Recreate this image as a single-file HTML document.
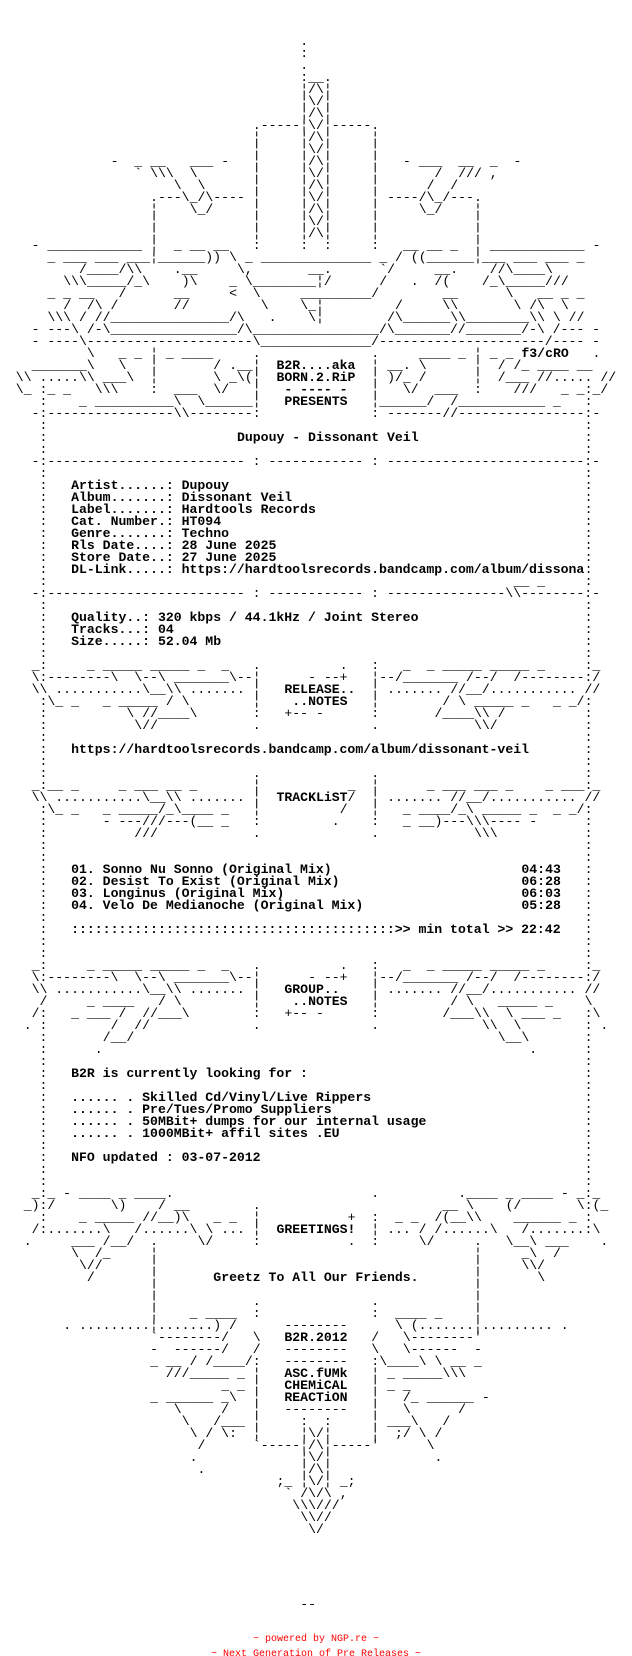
<!DOCTYPE html>
<html><head><meta charset="utf-8">
<style>
html,body{margin:0;padding:0;background:#fff;}
#w{position:relative;width:632px;height:1656px;overflow:hidden;background:#fff;color:#000;font-family:"Liberation Mono","DejaVu Sans Mono",monospace;font-size:13.17px;line-height:12px;}
p{position:absolute;left:0;margin:0;height:12px;width:632px;}
i{position:absolute;top:0;left:calc(var(--c)*7.9px);font-style:normal;white-space:pre;}
.b{font-weight:bold;}
.f{position:absolute;left:0;width:632px;text-align:center;color:#f00;font-family:"Liberation Mono",monospace;font-size:10px;line-height:12px;white-space:pre;}
</style></head><body><div id="w">
<p style="top:36px"><i style="--c:38">.</i></p>
<p style="top:48px"><i style="--c:38">:</i></p>
<p style="top:60px"><i style="--c:38">.</i></p>
<p style="top:72px"><i style="--c:38">:__.</i></p>
<p style="top:84px"><i style="--c:38">¦/\¦</i></p>
<p style="top:96px"><i style="--c:38">¦\/¦</i></p>
<p style="top:108px"><i style="--c:38">¦/\¦</i></p>
<p style="top:120px"><i style="--c:32">.-----¦\/¦-----.</i></p>
<p style="top:132px"><i style="--c:32">¦</i><i style="--c:38">¦/\¦</i><i style="--c:47">¦</i></p>
<p style="top:144px"><i style="--c:32">¦</i><i style="--c:38">¦\/¦</i><i style="--c:47">¦</i></p>
<p style="top:156px"><i style="--c:14">-</i><i style="--c:17">_</i><i style="--c:19">__</i><i style="--c:24">___</i><i style="--c:28">-</i><i style="--c:32">¦</i><i style="--c:38">¦/\¦</i><i style="--c:47">¦</i><i style="--c:51">-</i><i style="--c:53">___</i><i style="--c:58">__</i><i style="--c:62">_</i><i style="--c:65">-</i></p>
<p style="top:168px"><i style="--c:17">`</i><i style="--c:19">\\\</i><i style="--c:24">\</i><i style="--c:32">¦</i><i style="--c:38">¦\/¦</i><i style="--c:47">¦</i><i style="--c:55">/</i><i style="--c:58">///</i><i style="--c:62">,</i></p>
<p style="top:180px"><i style="--c:22">\</i><i style="--c:25">\</i><i style="--c:32">¦</i><i style="--c:38">¦/\¦</i><i style="--c:47">¦</i><i style="--c:54">/</i><i style="--c:57">/</i></p>
<p style="top:192px"><i style="--c:19">.---\_/\----</i><i style="--c:32">¦</i><i style="--c:38">¦\/¦</i><i style="--c:47">¦</i><i style="--c:49">----/\_/---.</i></p>
<p style="top:204px"><i style="--c:19">¦</i><i style="--c:24">\_/</i><i style="--c:32">¦</i><i style="--c:38">¦/\¦</i><i style="--c:47">¦</i><i style="--c:53">\_/</i><i style="--c:60">¦</i></p>
<p style="top:216px"><i style="--c:19">¦</i><i style="--c:32">¦</i><i style="--c:38">¦\/¦</i><i style="--c:47">¦</i><i style="--c:60">¦</i></p>
<p style="top:228px"><i style="--c:19">¦</i><i style="--c:32">¦</i><i style="--c:38">¦/\¦</i><i style="--c:47">¦</i><i style="--c:60">¦</i></p>
<p style="top:240px"><i style="--c:4">-</i><i style="--c:6">____________</i><i style="--c:19">¦</i><i style="--c:22">_ __ __</i><i style="--c:32">:</i><i style="--c:38">:</i><i style="--c:41">:</i><i style="--c:47">:</i><i style="--c:51">__ __ _</i><i style="--c:60">¦</i><i style="--c:62">____________</i><i style="--c:75">-</i></p>
<p style="top:252px"><i style="--c:6">_ ___ ___ ___¦______))</i><i style="--c:29">\</i><i style="--c:31">_</i><i style="--c:33">______________</i><i style="--c:48">_</i><i style="--c:50">/</i><i style="--c:52">((______¦___ ___ ___ _</i></p>
<p style="top:264px"><i style="--c:10">/____/\\</i><i style="--c:22">.__</i><i style="--c:30">\,</i><i style="--c:39">__.</i><i style="--c:48">`/</i><i style="--c:55">__.</i><i style="--c:62">//\____\</i></p>
<p style="top:276px"><i style="--c:8">\\\_____/_\</i><i style="--c:23">)\</i><i style="--c:29">_ \________¦/</i><i style="--c:48">/</i><i style="--c:52">.</i><i style="--c:55">/(</i><i style="--c:61">/_\_____///</i></p>
<p style="top:288px"><i style="--c:6">_ _ __</i><i style="--c:15">/</i><i style="--c:22">__</i><i style="--c:29">&lt;</i><i style="--c:32">\</i><i style="--c:38">_________/</i><i style="--c:56">__</i><i style="--c:64">\</i><i style="--c:68">__ _ _</i></p>
<p style="top:300px"><i style="--c:8">/  /\ /</i><i style="--c:22">//</i><i style="--c:33">\</i><i style="--c:38">\_¦</i><i style="--c:50">/</i><i style="--c:56">\\</i><i style="--c:65">\ /\  \</i></p>
<p style="top:312px"><i style="--c:6">\\\ / //_______________/\</i><i style="--c:34">.</i><i style="--c:39">\¦</i><i style="--c:49">/\______\\________\\ \ //</i></p>
<p style="top:324px"><i style="--c:4">- ---\ /-\________________/\________________/\_______//_______/-\ /--- -</i></p>
<p style="top:336px"><i style="--c:4">- ----\---------------------\______________/---------------------/---- -</i></p>
<p style="top:348px"><i style="--c:11">\</i><i style="--c:15">_ _</i><i style="--c:19">¦</i><i style="--c:21">_ ____</i><i style="--c:32">.</i><i style="--c:47">.</i><i style="--c:53">____ _</i><i style="--c:60">¦</i><i style="--c:62">_ _ </i><i style="--c:66" class="b">f3/cRO</i><i style="--c:75">.</i></p>
<p style="top:360px"><i style="--c:4">__</i><i style="--c:6">____</i><i style="--c:10">_\</i><i style="--c:15">\</i><i style="--c:19">¦</i><i style="--c:27">/</i><i style="--c:29">.__</i><i style="--c:32">¦</i><i style="--c:35" class="b">B2R....aka</i><i style="--c:47">¦</i><i style="--c:49">__.</i><i style="--c:53">\</i><i style="--c:60">¦</i><i style="--c:63">/</i><i style="--c:65">/_ ____</i><i style="--c:73">__</i></p>
<p style="top:372px"><i style="--c:2">\\ .....\\ ___\</i><i style="--c:19">¦</i><i style="--c:27">\ _\(</i><i style="--c:32">¦</i><i style="--c:35" class="b">BORN.2.RiP</i><i style="--c:47">¦</i><i style="--c:49">)/_ /</i><i style="--c:60">¦</i><i style="--c:63">/___ //..... //</i></p>
<p style="top:384px"><i style="--c:2">\_ :_ _   \\\</i><i style="--c:19">:</i><i style="--c:22">___</i><i style="--c:27">\/</i><i style="--c:32">¦</i><i style="--c:36" class="b">- ---- -</i><i style="--c:47">¦</i><i style="--c:51">\/</i><i style="--c:55">___</i><i style="--c:60">:</i><i style="--c:65">///</i><i style="--c:71">_ _:_/</i></p>
<p style="top:396px"><i style="--c:5">:</i><i style="--c:10">_ __________\  \______</i><i style="--c:32">¦</i><i style="--c:36" class="b">PRESENTS</i><i style="--c:47">¦</i><i style="--c:48">______/  /___________ _</i><i style="--c:74">:</i></p>
<p style="top:408px"><i style="--c:4">-:----------------\\--------</i><i style="--c:32">:</i><i style="--c:47">:</i><i style="--c:49">-------//----------------:-</i></p>
<p style="top:420px"><i style="--c:5">:</i><i style="--c:74">:</i></p>
<p style="top:432px"><i style="--c:5">:</i><i style="--c:30" class="b">Dupouy - Dissonant Veil</i><i style="--c:74">:</i></p>
<p style="top:444px"><i style="--c:5">:</i><i style="--c:74">:</i></p>
<p style="top:456px"><i style="--c:4">-:------------------------- : ------------ : -------------------------:-</i></p>
<p style="top:468px"><i style="--c:5">:</i><i style="--c:74">:</i></p>
<p style="top:480px"><i style="--c:5">:</i><i style="--c:9" class="b">Artist......: Dupouy</i><i style="--c:74">:</i></p>
<p style="top:492px"><i style="--c:5">:</i><i style="--c:9" class="b">Album.......: Dissonant Veil</i><i style="--c:74">:</i></p>
<p style="top:504px"><i style="--c:5">:</i><i style="--c:9" class="b">Label.......: Hardtools Records</i><i style="--c:74">:</i></p>
<p style="top:516px"><i style="--c:5">:</i><i style="--c:9" class="b">Cat. Number.: HT094</i><i style="--c:74">:</i></p>
<p style="top:528px"><i style="--c:5">:</i><i style="--c:9" class="b">Genre.......: Techno</i><i style="--c:74">:</i></p>
<p style="top:540px"><i style="--c:5">:</i><i style="--c:9" class="b">Rls Date....: 28 June 2025</i><i style="--c:74">:</i></p>
<p style="top:552px"><i style="--c:5">:</i><i style="--c:9" class="b">Store Date..: 27 June 2025</i><i style="--c:74">:</i></p>
<p style="top:564px"><i style="--c:5">:</i><i style="--c:9" class="b">DL-Link.....: https://hardtoolsrecords.bandcamp.com/album/dissona</i><i style="--c:74">:</i></p>
<p style="top:576px"><i style="--c:5">:</i><i style="--c:65">__ _</i><i style="--c:74">:</i></p>
<p style="top:588px"><i style="--c:4">-:------------------------- : ------------ : ---------------\\--------:-</i></p>
<p style="top:600px"><i style="--c:5">:</i><i style="--c:74">:</i></p>
<p style="top:612px"><i style="--c:5">:</i><i style="--c:9" class="b">Quality..: 320 kbps / 44.1kHz / Joint Stereo</i><i style="--c:74">:</i></p>
<p style="top:624px"><i style="--c:5">:</i><i style="--c:9" class="b">Tracks...: 04</i><i style="--c:74">:</i></p>
<p style="top:636px"><i style="--c:5">:</i><i style="--c:9" class="b">Size.....: 52.04 Mb</i><i style="--c:74">:</i></p>
<p style="top:648px"><i style="--c:5">:</i><i style="--c:74">:</i></p>
<p style="top:660px"><i style="--c:4">_:</i><i style="--c:11">_ _____</i><i style="--c:19">_____ _</i><i style="--c:28">_</i><i style="--c:32">.</i><i style="--c:43">.</i><i style="--c:47">:</i><i style="--c:51">_</i><i style="--c:54">_ _____</i><i style="--c:62">_____ _</i><i style="--c:74">:_</i></p>
<p style="top:672px"><i style="--c:4">\:--------\  \--\ _______\--</i><i style="--c:32">¦</i><i style="--c:39">- --+</i><i style="--c:47">¦</i><i style="--c:48">--/_______ /--/  /--------:/</i></p>
<p style="top:684px"><i style="--c:4">\\ ...........\__\\ .......</i><i style="--c:32">¦</i><i style="--c:36" class="b">RELEASE..</i><i style="--c:47">¦</i><i style="--c:49">....... //__/........... //</i></p>
<p style="top:696px"><i style="--c:5">:\_ _</i><i style="--c:13">_ _____</i><i style="--c:21">/ \</i><i style="--c:32">¦</i><i style="--c:37" class="b">..NOTES</i><i style="--c:47">¦</i><i style="--c:56">/ \</i><i style="--c:60">_____ _</i><i style="--c:70">_ _/:</i></p>
<p style="top:708px"><i style="--c:5">:</i><i style="--c:16">\ //____\</i><i style="--c:32">:</i><i style="--c:36">+-- -</i><i style="--c:47">:</i><i style="--c:55">/____\\ /</i><i style="--c:74">:</i></p>
<p style="top:720px"><i style="--c:5">:</i><i style="--c:17">\//</i><i style="--c:32">.</i><i style="--c:47">.</i><i style="--c:60">\\/</i><i style="--c:74">:</i></p>
<p style="top:732px"><i style="--c:5">:</i><i style="--c:74">:</i></p>
<p style="top:744px"><i style="--c:5">:</i><i style="--c:9" class="b">https://hardtoolsrecords.bandcamp.com/album/dissonant-veil</i><i style="--c:74">:</i></p>
<p style="top:756px"><i style="--c:5">:</i><i style="--c:74">:</i></p>
<p style="top:768px"><i style="--c:5">:</i><i style="--c:32">.</i><i style="--c:47">.</i><i style="--c:74">:</i></p>
<p style="top:780px"><i style="--c:4">_:__ _</i><i style="--c:15">_ ___ __ _</i><i style="--c:32">¦</i><i style="--c:44">_</i><i style="--c:47">¦</i><i style="--c:54">_ ___ ___ _</i><i style="--c:69">_ ___:_</i></p>
<p style="top:792px"><i style="--c:4">\\ ...........\__\\ .......</i><i style="--c:32">¦</i><i style="--c:35" class="b">TRACKLiST</i><i style="--c:44">/</i><i style="--c:47">¦</i><i style="--c:49">....... //__/........... //</i></p>
<p style="top:804px"><i style="--c:5">:\_ _</i><i style="--c:13">_ _____</i><i style="--c:20">/_\____ _</i><i style="--c:32">¦</i><i style="--c:43">/</i><i style="--c:47">¦</i><i style="--c:51">_ ____/_\</i><i style="--c:61">_____ _</i><i style="--c:70">_ _/:</i></p>
<p style="top:816px"><i style="--c:5">:</i><i style="--c:13">- ---///---(__ _</i><i style="--c:32">:</i><i style="--c:42">.</i><i style="--c:47">:</i><i style="--c:51">_ __)---\\\---- -</i><i style="--c:74">:</i></p>
<p style="top:828px"><i style="--c:5">:</i><i style="--c:17">///</i><i style="--c:32">.</i><i style="--c:47">.</i><i style="--c:60">\\\</i><i style="--c:74">:</i></p>
<p style="top:840px"><i style="--c:5">:</i><i style="--c:74">:</i></p>
<p style="top:852px"><i style="--c:5">:</i><i style="--c:74">:</i></p>
<p style="top:864px"><i style="--c:5">:</i><i style="--c:9" class="b">01. Sonno Nu Sonno (Original Mix)</i><i style="--c:66" class="b">04:43</i><i style="--c:74">:</i></p>
<p style="top:876px"><i style="--c:5">:</i><i style="--c:9" class="b">02. Desist To Exist (Original Mix)</i><i style="--c:66" class="b">06:28</i><i style="--c:74">:</i></p>
<p style="top:888px"><i style="--c:5">:</i><i style="--c:9" class="b">03. Longinus (Original Mix)</i><i style="--c:66" class="b">06:03</i><i style="--c:74">:</i></p>
<p style="top:900px"><i style="--c:5">:</i><i style="--c:9" class="b">04. Velo De Medianoche (Original Mix)</i><i style="--c:66" class="b">05:28</i><i style="--c:74">:</i></p>
<p style="top:912px"><i style="--c:5">:</i><i style="--c:74">:</i></p>
<p style="top:924px"><i style="--c:5">:</i><i style="--c:9" class="b">:::::::::::::::::::::::::::::::::::::::::&gt;&gt; min total &gt;&gt; 22:42</i><i style="--c:74">:</i></p>
<p style="top:936px"><i style="--c:5">:</i><i style="--c:74">:</i></p>
<p style="top:948px"><i style="--c:5">:</i><i style="--c:74">:</i></p>
<p style="top:960px"><i style="--c:4">_:</i><i style="--c:11">_ _____</i><i style="--c:19">_____ _</i><i style="--c:28">_</i><i style="--c:32">.</i><i style="--c:43">.</i><i style="--c:47">:</i><i style="--c:51">_</i><i style="--c:54">_ _____</i><i style="--c:62">_____ _</i><i style="--c:74">:_</i></p>
<p style="top:972px"><i style="--c:4">\:--------\  \--\ _______\--</i><i style="--c:32">¦</i><i style="--c:39">- --+</i><i style="--c:47">¦</i><i style="--c:48">--/_______ /--/  /--------:/</i></p>
<p style="top:984px"><i style="--c:4">\\ ...........\__\\ .......</i><i style="--c:32">¦</i><i style="--c:36" class="b">GROUP..</i><i style="--c:47">¦</i><i style="--c:49">....... //__/........... //</i></p>
<p style="top:996px"><i style="--c:5">/</i><i style="--c:11">_ ____</i><i style="--c:20">/ \</i><i style="--c:32">¦</i><i style="--c:37" class="b">..NOTES</i><i style="--c:47">¦</i><i style="--c:57">/ \</i><i style="--c:63">_____ _</i><i style="--c:74">\</i></p>
<p style="top:1008px"><i style="--c:4">/:</i><i style="--c:9">_ ___ /</i><i style="--c:18">//___\</i><i style="--c:32">:</i><i style="--c:36">+-- -</i><i style="--c:47">:</i><i style="--c:56">/___\\</i><i style="--c:64">\ ___ _</i><i style="--c:74">:\</i></p>
<p style="top:1020px"><i style="--c:3">.</i><i style="--c:5">:</i><i style="--c:14">/  //</i><i style="--c:32">.</i><i style="--c:47">.</i><i style="--c:61">\\  \</i><i style="--c:74">:</i><i style="--c:76">.</i></p>
<p style="top:1032px"><i style="--c:5">:</i><i style="--c:13">/__/</i><i style="--c:63">\__\</i><i style="--c:74">:</i></p>
<p style="top:1044px"><i style="--c:5">:</i><i style="--c:12">.</i><i style="--c:67">.</i><i style="--c:74">:</i></p>
<p style="top:1056px"><i style="--c:5">:</i><i style="--c:74">:</i></p>
<p style="top:1068px"><i style="--c:5">:</i><i style="--c:9" class="b">B2R is currently looking for :</i><i style="--c:74">:</i></p>
<p style="top:1080px"><i style="--c:5">:</i><i style="--c:74">:</i></p>
<p style="top:1092px"><i style="--c:5">:</i><i style="--c:9" class="b">...... . Skilled Cd/Vinyl/Live Rippers</i><i style="--c:74">:</i></p>
<p style="top:1104px"><i style="--c:5">:</i><i style="--c:9" class="b">...... . Pre/Tues/Promo Suppliers</i><i style="--c:74">:</i></p>
<p style="top:1116px"><i style="--c:5">:</i><i style="--c:9" class="b">...... . 50MBit+ dumps for our internal usage</i><i style="--c:74">:</i></p>
<p style="top:1128px"><i style="--c:5">:</i><i style="--c:9" class="b">...... . 1000MBit+ affil sites .EU</i><i style="--c:74">:</i></p>
<p style="top:1140px"><i style="--c:5">:</i><i style="--c:74">:</i></p>
<p style="top:1152px"><i style="--c:5">:</i><i style="--c:9" class="b">NFO updated : 03-07-2012</i><i style="--c:74">:</i></p>
<p style="top:1164px"><i style="--c:5">:</i><i style="--c:74">:</i></p>
<p style="top:1176px"><i style="--c:5">:</i><i style="--c:74">:</i></p>
<p style="top:1188px"><i style="--c:4">_:_ - ____ _ ____.</i><i style="--c:47">.</i><i style="--c:58">.____ _ ____ - _:_</i></p>
<p style="top:1200px"><i style="--c:3">_):/</i><i style="--c:14">\)</i><i style="--c:20">/</i><i style="--c:22">__</i><i style="--c:32">.</i><i style="--c:56">__</i><i style="--c:59">\</i><i style="--c:64">(/</i><i style="--c:73">\:(_</i></p>
<p style="top:1212px"><i style="--c:5">:</i><i style="--c:10">_ _____</i><i style="--c:18">//__)\</i><i style="--c:27">_ _</i><i style="--c:32">¦</i><i style="--c:44">+</i><i style="--c:47">:</i><i style="--c:50">_ _</i><i style="--c:55">/(__\\</i><i style="--c:65">______ _</i><i style="--c:74">:</i></p>
<p style="top:1224px"><i style="--c:4">/:.......\</i><i style="--c:17">/......\</i><i style="--c:26">\ ...</i><i style="--c:32">¦</i><i style="--c:35" class="b">GREETINGS!</i><i style="--c:47">¦</i><i style="--c:49">... /</i><i style="--c:55">/......\</i><i style="--c:66">/.......:\</i></p>
<p style="top:1236px"><i style="--c:3">.</i><i style="--c:9">___ /__/</i><i style="--c:19">.</i><i style="--c:25">\/</i><i style="--c:32">:</i><i style="--c:44">.</i><i style="--c:47">:</i><i style="--c:53">\/</i><i style="--c:60">.</i><i style="--c:64">\__\ ___</i><i style="--c:76">.</i></p>
<p style="top:1248px"><i style="--c:9">\  /_</i><i style="--c:19">¦</i><i style="--c:60">¦</i><i style="--c:66">_\  /</i></p>
<p style="top:1260px"><i style="--c:10">\//</i><i style="--c:19">¦</i><i style="--c:60">¦</i><i style="--c:66">\\/</i></p>
<p style="top:1272px"><i style="--c:11">/</i><i style="--c:19">¦</i><i style="--c:27" class="b">Greetz To All Our Friends.</i><i style="--c:60">¦</i><i style="--c:68">\</i></p>
<p style="top:1284px"><i style="--c:19">¦</i><i style="--c:60">¦</i></p>
<p style="top:1296px"><i style="--c:19">¦</i><i style="--c:32">.</i><i style="--c:47">.</i><i style="--c:60">¦</i></p>
<p style="top:1308px"><i style="--c:19">¦</i><i style="--c:24">_ ____</i><i style="--c:32">:</i><i style="--c:47">:</i><i style="--c:50">____ _</i><i style="--c:60">¦</i></p>
<p style="top:1320px"><i style="--c:8">. .........¦.......) /</i><i style="--c:36">--------</i><i style="--c:50">\ (.......¦......... .</i></p>
<p style="top:1332px"><i style="--c:19">`--------/</i><i style="--c:32">\</i><i style="--c:36" class="b">B2R.2012</i><i style="--c:47">/</i><i style="--c:51">\--------'</i></p>
<p style="top:1344px"><i style="--c:19">-  ------/</i><i style="--c:32">/</i><i style="--c:36">--------</i><i style="--c:47">\</i><i style="--c:51">\------  -</i></p>
<p style="top:1356px"><i style="--c:19">_ __ / /____/:</i><i style="--c:36">--------</i><i style="--c:47">:\____\ \ __ _</i></p>
<p style="top:1368px"><i style="--c:21">///_____ _</i><i style="--c:32">¦</i><i style="--c:36" class="b">ASC.fUMk</i><i style="--c:47">¦</i><i style="--c:49">_ _____\\\</i></p>
<p style="top:1380px"><i style="--c:28">_ _</i><i style="--c:32">¦</i><i style="--c:36" class="b">CHEMiCAL</i><i style="--c:47">¦</i><i style="--c:49">_ _</i></p>
<p style="top:1392px"><i style="--c:19">_ ______ _\</i><i style="--c:32">¦</i><i style="--c:36" class="b">REACTiON</i><i style="--c:47">¦</i><i style="--c:51">/_ ______ -</i></p>
<p style="top:1404px"><i style="--c:22">\     /</i><i style="--c:32">¦</i><i style="--c:36">--------</i><i style="--c:47">¦</i><i style="--c:51">\      /</i></p>
<p style="top:1416px"><i style="--c:23">\   /___</i><i style="--c:32">¦</i><i style="--c:38">:  :</i><i style="--c:47">¦</i><i style="--c:49">___\   /</i></p>
<p style="top:1428px"><i style="--c:24">\ / \:</i><i style="--c:32">¦</i><i style="--c:38">¦\/¦</i><i style="--c:47">¦</i><i style="--c:50">;/ \ /</i></p>
<p style="top:1440px"><i style="--c:25">/</i><i style="--c:32">`-----¦/\¦-----'</i><i style="--c:54">\</i></p>
<p style="top:1452px"><i style="--c:24">.</i><i style="--c:38">¦\/¦</i><i style="--c:55">.</i></p>
<p style="top:1464px"><i style="--c:25">.</i><i style="--c:38">¦/\¦</i></p>
<p style="top:1476px"><i style="--c:35">;</i><i style="--c:36">_</i><i style="--c:38">¦\/¦</i><i style="--c:43">_</i><i style="--c:44">;</i></p>
<p style="top:1488px"><i style="--c:36">`</i><i style="--c:38">/\/\</i><i style="--c:43">,</i></p>
<p style="top:1500px"><i style="--c:37">\\\///</i></p>
<p style="top:1512px"><i style="--c:38">\\//</i></p>
<p style="top:1524px"><i style="--c:39">\/</i></p>
<p style="top:1599px"><i style="--c:38">--</i></p>
<div class="f" style="top:1634px">~ powered by NGP.re ~</div>
<div class="f" style="top:1649px">~ Next Generation of Pre Releases ~</div>
</div></body></html>
